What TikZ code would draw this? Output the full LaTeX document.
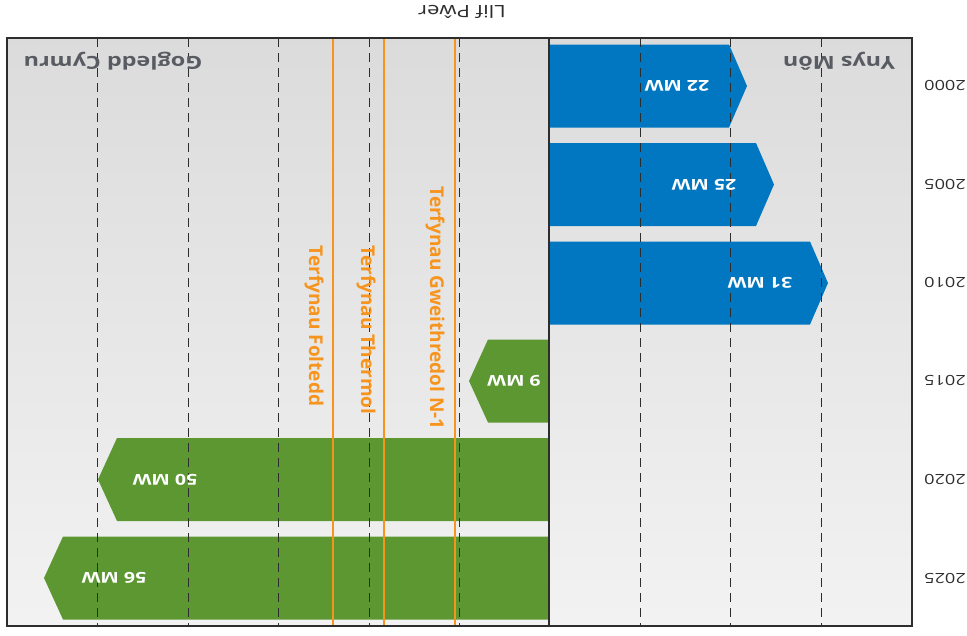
\documentclass[tikz,border=0pt]{standalone}
\usepackage{fontspec}
\setmainfont{Open Sans}
\usepackage{xcolor}
\definecolor{monblue}{RGB}{0,119,192}
\definecolor{cymrugreen}{RGB}{93,151,50}
\definecolor{limitorange}{RGB}{247,148,30}
\definecolor{framegray}{RGB}{45,45,45}
\definecolor{textgray}{RGB}{88,92,98}

\begin{document}
\begin{tikzpicture}[x=1pt,y=-1pt,
    flip/.style={rotate=180,xscale=1.3,inner sep=0pt},
    mwlabel/.style={flip,text=white,font=\bfseries\fontsize{15}{15}\selectfont},
    region/.style={flip,text=textgray,font=\bfseries\fontsize{18}{18}\selectfont},
    yearlabel/.style={flip,text=framegray,font=\fontsize{14}{14}\selectfont},
    limitlabel/.style={rotate=-90,inner sep=0pt,text=limitorange,font=\bfseries\fontsize{19}{19}\selectfont},
    gridline/.style={framegray,line width=0.9pt,dash pattern=on 9pt off 6pt},
    limitline/.style={limitorange,line width=1.6pt}]
            \useasboundingbox (0,0) rectangle (967,635);

            % Background
            \shade[top color=black!14,bottom color=black!5] (7,38) rectangle (912,626);

            % Title
            \node[flip,font=\fontsize{17}{17}\selectfont,text=framegray] (title) at (462,12) {Llif Pŵer};

            % Ynys Mon
            \foreach \yc/\xe/\name/\lab/\lx in {86/729/b22/22 MW/677, 184.5/756/b25/25 MW/704, 283/810/b31/31 MW/760} {
                \fill[monblue] (549,\yc-41.5) -- (\xe,\yc-41.5) -- (\xe+18,\yc) -- (\xe,\yc+41.5) -- (549,\yc+41.5) -- cycle;
            }

            % Gogledd Cymru
            \foreach \yc/\xe/\name/\lab/\lx in {381/488/g9/9 MW/514, 479.5/117/g50/50 MW/165, 578/63/g56/56 MW/114} {
                \fill[cymrugreen] (549,\yc-41.5) -- (\xe,\yc-41.5) -- (\xe-19,\yc) -- (\xe,\yc+41.5) -- (549,\yc+41.5) -- cycle;
            }

            % Grid
            \foreach \x in {97,188,278,369,459,640,730,821} {
                \draw[gridline] (\x,38) -- (\x,626);
            }

            % Limits
            \foreach \x in {333,384,455} {
                \draw[limitline] (\x,38) -- (\x,626);
            }
            \node[limitlabel] (foltedd) at (314,326) {Terfynau Foltedd};
            \node[limitlabel] (thermol) at (366,330) {Terfynau Thermol};
            \node[limitlabel] (gweithredol) at (435,308) {Terfynau Gweithredol N-1};

            % Bar labels
            \foreach \yc/\name/\lab/\lx in {86/b22/22 MW/677, 184.5/b25/25 MW/704, 283/b31/31 MW/760,
                                           381/g9/9 MW/514, 479.5/g50/50 MW/165, 578/g56/56 MW/114} {
                \node[mwlabel] (\name) at (\lx,\yc) {\lab};
            }

            % Frame
            \draw[framegray,line width=2pt] (7,38) rectangle (912,626);
            \draw[framegray,line width=2pt] (549,38) -- (549,626);

            % Regions
            \node[region] (ynysmon) at (839,61) {Ynys Môn};
            \node[region] (gogledd) at (113,61) {Gogledd Cymru};

            % Years
            \foreach \yc/\yr in {86/2000,184.5/2005,283/2010,381/2015,479.5/2020,578/2025} {
                \node[yearlabel] (y\yr) at (945,\yc) {\yr};
            }
        \end{tikzpicture}
\end{document}
